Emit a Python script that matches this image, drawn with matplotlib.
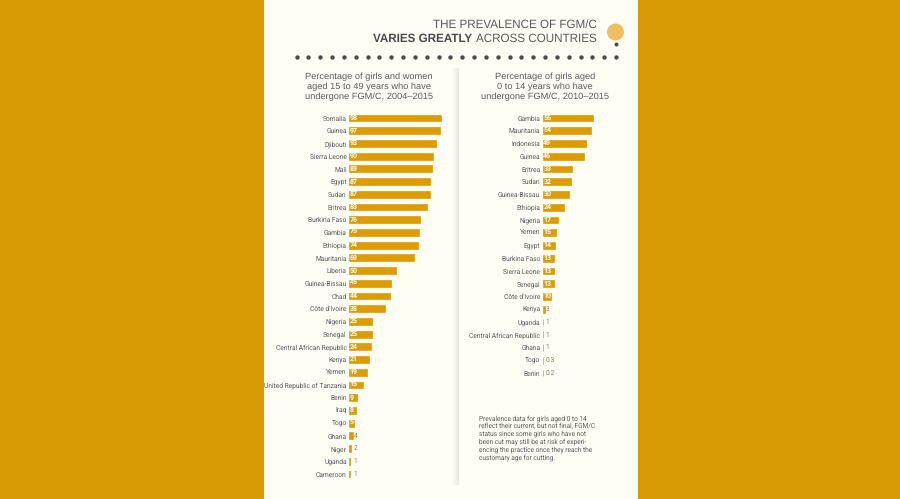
import numpy as np
import matplotlib
matplotlib.use("Agg")
import matplotlib.pyplot as plt

W, H = 900, 499
GOLD = "#d89a04"
BAR = "#dc9c04"
CREAM = "#fffef5"
GREY = "#58595b"
DARK = "#4a4a4c"
SANS = ["Liberation Sans", "DejaVu Sans"]

plt.rcParams["font.family"] = ["Roboto", "DejaVu Sans"]
plt.rcParams["text.hinting"] = "none"

left = [("Somalia", 98), ("Guinea", 97), ("Djibouti", 93), ("Sierra Leone", 90), ("Mali", 89),
        ("Egypt", 87), ("Sudan", 87), ("Eritrea", 83), ("Burkina Faso", 76), ("Gambia", 75),
        ("Ethiopia", 74), ("Mauritania", 69), ("Liberia", 50), ("Guinea-Bissau", 45), ("Chad", 44),
        ("Côte d'Ivoire", 38), ("Nigeria", 25), ("Senegal", 25), ("Central African Republic", 24),
        ("Kenya", 21), ("Yemen", 19), ("United Republic of Tanzania", 15), ("Benin", 9), ("Iraq", 8),
        ("Togo", 5), ("Ghana", 4), ("Niger", 2), ("Uganda", 1), ("Cameroon", 1)]
right = [("Gambia", 56), ("Mauritania", 54), ("Indonesia", 49), ("Guinea", 46), ("Eritrea", 33),
         ("Sudan", 32), ("Guinea-Bissau", 30), ("Ethiopia", 24), ("Nigeria", 17), ("Yemen", 15),
         ("Egypt", 14), ("Burkina Faso", 13), ("Sierra Leone", 13), ("Senegal", 13), ("Côte d'Ivoire", 10),
         ("Kenya", 3), ("Uganda", 1), ("Central African Republic", 1), ("Ghana", 1), ("Togo", 0.3), ("Benin", 0.2)]

fig = plt.figure(figsize=(W / 100, H / 100), dpi=100, facecolor=GOLD)

# page background, pixel coordinates
bg = fig.add_axes([0, 0, 1, 1])
bg.set_xlim(0, W)
bg.set_ylim(H, 0)
bg.axis("off")
bg.add_patch(plt.Rectangle((264, 0), 374, H, color=CREAM, lw=0))

# soft shadow left of the divider
shade = np.linspace(0, 1, 16).reshape(1, -1) ** 3
rgba = np.zeros((1, 16, 4))
rgba[..., :3] = 0.55
rgba[..., 3] = shade * 0.22
bg.imshow(rgba, extent=(447, 459, 485, 68), aspect="auto", interpolation="bilinear", zorder=1)
bg.set_xlim(0, W)
bg.set_ylim(H, 0)

# title
bg.text(597, 24.5, "THE PREVALENCE OF FGM/C", ha="right", va="center", fontsize=8.4,
        color=GREY, fontfamily=SANS)
bg.text(597, 38.5, "ACROSS COUNTRIES", ha="right", va="center", fontsize=8.4,
        color=GREY, fontfamily=SANS)
bg.text(472, 38.5, "VARIES GREATLY", ha="right", va="center", fontsize=8.4, fontweight="bold",
        color=DARK, fontfamily=SANS)

# sun and dotted rule
bg.add_patch(plt.Circle((615.5, 32), 8.5, color="#eebd62", lw=0))
bg.scatter(np.linspace(296.5, 616, 28), [56.5] * 28, s=10, color=DARK, lw=0)
bg.scatter([615.5], [44], s=8, color=DARK, lw=0)

# column headings
bg.text(369, 86.5, "Percentage of girls and women\naged 15 to 49 years who have\nundergone FGM/C, 2004–2015",
        ha="center", va="center", fontsize=6.7, color=GREY, linespacing=1.25, fontfamily=SANS)
bg.text(545, 86.5, "Percentage of girls aged\n0 to 14 years who have\nundergone FGM/C, 2010–2015",
        ha="center", va="center", fontsize=6.7, color=GREY, linespacing=1.25, fontfamily=SANS)


def bars(data, x0, x1, xmax, y0, y1, out_px):
    names = [d[0] for d in data]
    vals = [d[1] for d in data]
    n = len(data)
    step = (y1 - y0) / (n - 1)
    ax = fig.add_axes([x0 / W, 1 - (y1 + step / 2) / H, (x1 - x0) / W, (y1 - y0 + step) / H])
    ax.patch.set_alpha(0)
    ax.barh(range(n), vals, height=0.54, color=BAR, edgecolor=BAR, lw=0.5)
    ax.set_xlim(0, xmax)
    ax.set_ylim(n - 0.5, -0.5)
    ax.set_yticks(range(n))
    ax.set_yticklabels(names, fontsize=4.75, color=GREY)
    ax.tick_params(axis="y", length=0, pad=1.6)
    ax.set_xticks([])
    ax.spines[["top", "right", "bottom", "left"]].set_visible(False)
    px = xmax / (x1 - x0)
    for i, v in enumerate(vals):
        if v >= 5:
            ax.text(px * 0.8, i, f"{v}", va="center", ha="left", fontsize=5,
                    color="white", fontweight="bold")
        else:
            ax.text(px * out_px, i, f"{v}", va="center", ha="left", fontsize=4.8,
                    color="#8a7a58")
    return ax


bars(left, 349, 442.5, 100, 118, 474, 4.5)
bars(right, 542.5, 632, 100, 118, 373, 3)

# note, left aligned
note = ("Prevalence data for girls aged 0 to 14\nreflect their current, but not final, FGM/C\n"
        "status since some girls who have not\nbeen cut may still be at risk of experi-\n"
        "encing the practice once they reach the\ncustomary age for cutting.")
bg.text(479, 438, note, ha="left", va="center", fontsize=4.7, color=GREY, linespacing=1.2)

fig.savefig("out.png", dpi=100, facecolor=GOLD)
